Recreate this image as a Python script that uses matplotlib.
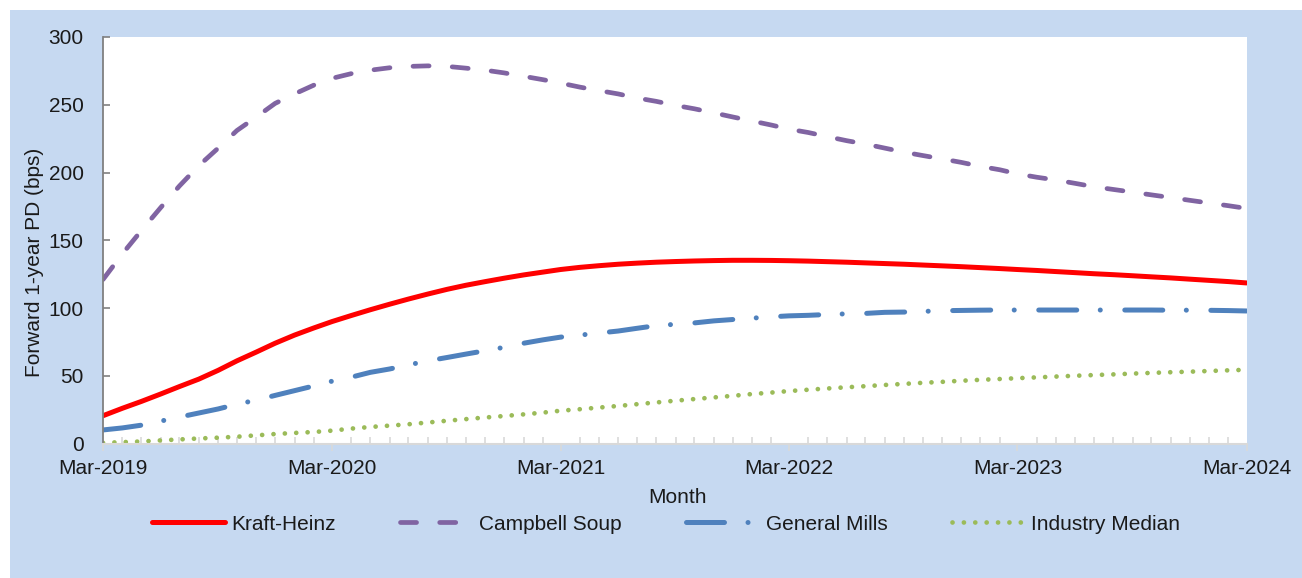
import numpy as np
import pandas as pd
import matplotlib as mpl
import matplotlib.pyplot as plt
import matplotlib.dates as mdates
from matplotlib.patches import Rectangle

mpl.rcParams['font.family'] = ['Liberation Sans', 'DejaVu Sans']

# monthly, Mar-2019 .. Mar-2024
months = pd.date_range('2019-03-01', '2024-03-01', freq='MS')

kraft_heinz = [20.5, 26, 31, 36.5, 42, 47.5, 54, 61, 67.5, 74, 80, 85.3, 90,
               94.5, 98.7, 102.8, 106.6, 110.3, 113.8, 116.8, 119.5, 122, 124.4, 126.5, 128.4,
               130, 131.2, 132.3, 133.1, 133.8, 134.3, 134.7, 135, 135.2, 135.2, 135.1,
               134.9, 134.6, 134.2, 133.8, 133.3, 132.8, 132.3, 131.7, 131.1, 130.5,
               129.8, 129.1, 128.4, 127.7, 126.9, 126.1, 125.3, 124.6, 123.8, 123,
               122.2, 121.3, 120.4, 119.5, 118.5]

campbell_soup = [121, 140, 157, 174, 190, 205, 218, 231, 241, 251, 258, 264.5, 269.5,
                 273, 275.5, 277.3, 278.3, 278.7, 278.3, 277, 275.5, 273.5, 271, 268.5,
                 266, 263, 260.5, 258, 255, 252.5, 249.5, 247, 244, 241, 238, 235,
                 232, 229.5, 226.5, 223.5, 221, 218, 215, 212.5, 210, 207.5, 204.5,
                 202, 199, 196.5, 194.5, 192, 189.5, 187.5, 185.5, 183.5, 181.5,
                 179.5, 177.5, 175.5, 173.5]

general_mills = [10, 11.5, 13.5, 16.5, 19.5, 22.5, 25.5, 29, 32, 35.5, 39, 42.5, 46,
                 49, 52.5, 55, 58, 61, 63.5, 66, 68.5, 71, 74, 76.5, 78.5, 80, 81.5,
                 83, 85, 87, 88, 89, 90.5, 91.5, 92.5, 93.5, 94.2, 94.6, 95.2, 95.7,
                 96, 96.8, 97, 97.5, 98, 98.2, 98.4, 98.5, 98.5, 98.5, 98.5, 98.5,
                 98.5, 98.5, 98.5, 98.5, 98.4, 98.4, 98.3, 98.1, 97.8]

industry_median = [0.5, 1, 1.5, 2.3, 3, 3.7, 4.3, 5, 6, 7, 7.8, 8.5, 9.5, 11, 12.2,
                   13.2, 14.2, 15.5, 16.8, 18, 19.2, 20.3, 21.5, 22.8, 24.2, 25.3,
                   26.5, 27.7, 29, 30.3, 31.6, 32.8, 34, 35.2, 36.5, 37.6, 38.7, 39.7,
                   40.6, 41.5, 42.3, 43.2, 44, 44.8, 45.5, 46.3, 47, 47.6, 48.2, 48.8,
                   49.4, 50, 50.5, 51, 51.6, 52.1, 52.6, 53, 53.5, 54, 54.4]

W, H = 1302, 578
fig = plt.figure(figsize=(W / 100, H / 100), dpi=100, facecolor='white')
# light blue chart area, behind everything
fig.patches.append(Rectangle((10 / W, 0), 1, (H - 10) / H, transform=fig.transFigure,
                             facecolor='#C6D9F1', edgecolor='none', zorder=-10))

ax = fig.add_axes([103 / W, (H - 443.5) / H, (1246.5 - 103) / W, (443.5 - 37) / H])
ax.set_zorder(1)
ax.set_facecolor('white')

ax.plot(months, kraft_heinz, color='#FF0000', lw=3.6, solid_capstyle='round',
        label='Kraft-Heinz')
ax.plot(months, campbell_soup, color='#8064A2', lw=3.4, linestyle=(0, (3.4, 4.9)),
        dash_capstyle='round', label='Campbell Soup')
ax.plot(months, general_mills, color='#4F81BD', lw=3.6,
        linestyle=(0, (7.6, 4.7, 0.01, 4.9)), dash_capstyle='round',
        label='General Mills')
ax.plot(months, industry_median, color='#9BBB59', lw=3.4, linestyle=(0, (0.01, 2.4)),
        dash_capstyle='round', label='Industry Median')

ax.set_xlim(months[0], months[-1])
ax.set_ylim(0, 300)
ax.set_yticks(np.arange(0, 301, 50))

ax.xaxis.set_major_locator(mdates.MonthLocator(bymonth=3))
ax.xaxis.set_minor_locator(mdates.MonthLocator())
ax.xaxis.set_major_formatter(mdates.DateFormatter('%b-%Y'))

for s in ['top', 'right']:
    ax.spines[s].set_visible(False)
ax.spines['left'].set_color('#808080')
ax.spines['left'].set_linewidth(1.3)
ax.spines['bottom'].set_color('#D9D9D9')
ax.spines['bottom'].set_linewidth(1.5)

txt = '#1A1A1A'
ax.tick_params(axis='y', direction='in', length=5, width=1.2, color='#808080',
               pad=14, labelsize=15, labelcolor=txt)
ax.tick_params(axis='x', which='major', direction='out', length=5, width=1.2,
               color='#D9D9D9', pad=6, labelsize=15, labelcolor=txt)
ax.tick_params(axis='x', which='minor', direction='in', length=5, width=1.2,
               color='#D9D9D9')

ax.set_ylabel('Forward 1-year PD (bps)', fontsize=15, color=txt)
ax.yaxis.set_label_coords(-0.052, 0.445)
ax.set_xlabel('Month', fontsize=15, color=txt)
ax.xaxis.label.set_va('center')
ax.xaxis.set_label_coords(0.502, -0.132)

fig.legend(loc='center', bbox_to_anchor=(666 / W, 1 - 524 / H), ncol=4,
           frameon=False, fontsize=15, handlelength=3.5, handletextpad=0.3,
           columnspacing=3.1, labelcolor=txt)

fig.savefig('out.png', dpi=100, facecolor=fig.get_facecolor())
